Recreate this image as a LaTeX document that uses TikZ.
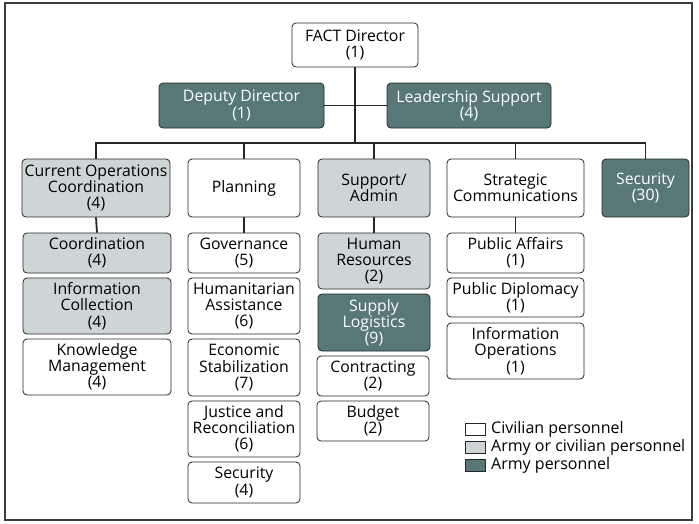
\documentclass[tikz,border=0pt]{standalone}
\usepackage{fontspec}
\setmainfont{Open Sans}
\definecolor{armyc}{RGB}{88,120,120}
\definecolor{mixc}{RGB}{206,213,215}
\definecolor{framec}{RGB}{60,60,60}

\begin{document}
\begin{tikzpicture}[x=1pt,y=-1pt,
      box/.style={rectangle,draw=black!85,line width=0.8pt,rounded corners=4pt,
        align=center,inner sep=0pt,font=\fontsize{15.8}{16.2}\selectfont},
      civ/.style={box,fill=white},
      mix/.style={box,fill=mixc},
      army/.style={box,fill=armyc,text=white},
      link/.style={line width=1.8pt,black!85},
      key/.style={draw=black!85,line width=0.8pt,minimum width=20pt,minimum height=12pt,inner sep=0pt},
      keytext/.style={anchor=west,inner sep=0pt,font=\fontsize{16}{16}\selectfont}]
      \useasboundingbox (0,0) rectangle (699,523);
      \draw[framec,line width=1.2pt] (5,3) rectangle (692,520);
      % top
      \node[civ,minimum width=126,minimum height=44] (Dir) at (355,45) {FACT Director\\(1)}; %L0
      \node[army,minimum width=165,minimum height=45] (Dep) at (241.5,105.5) {Deputy Director\\(1)};
      \node[army,minimum width=164,minimum height=45] (Lead) at (469,105.5) {Leadership Support\\(4)};
      % L1
      \node[mix,minimum width=148,minimum height=58] (Cur) at (96,188) {Current Operations\\Coordination\\(4)};
      \node[civ,minimum width=112,minimum height=58] (Plan) at (244,188) {Planning};
      \node[mix,minimum width=112,minimum height=58] (Sup) at (374,188) {Support/\\Admin};
      \node[civ,minimum width=137,minimum height=58] (Strat) at (515.5,188) {Strategic\\Communications};
      \node[army,minimum width=87,minimum height=58] (Sec) at (645.5,188) {Security\\(30)};
      % L2, column 1
      \node[mix,minimum width=148,minimum height=40] (Coord) at (97,253) {Coordination\\(4)};
      \node[mix,minimum width=148,minimum height=56] (Info) at (97,306) {Information\\Collection\\(4)};
      \node[civ,minimum width=148,minimum height=56] (Know) at (97,367) {Knowledge\\Management\\(4)};
      % L2, column 2
      \node[civ,minimum width=112,minimum height=40] (Gov) at (244,253) {Governance\\(5)};
      \node[civ,minimum width=112,minimum height=56] (Hum) at (244,306) {Humanitarian\\Assistance\\(6)};
      \node[civ,minimum width=112,minimum height=57] (Eco) at (244,367.5) {Economic\\Stabilization\\(7)};
      \node[civ,minimum width=112,minimum height=56] (Just) at (244,429) {Justice and\\Reconciliation\\(6)};
      \node[civ,minimum width=112,minimum height=41] (SecP) at (244,482.5) {Security\\(4)};
      % L2, column 3
      \node[mix,minimum width=112,minimum height=56] (HR) at (374,261) {Human\\Resources\\(2)};
      \node[army,minimum width=112,minimum height=57] (SL) at (374,322.5) {Supply\\Logistics\\(9)};
      \node[civ,minimum width=112,minimum height=40] (Con) at (373,376) {Contracting\\(2)};
      \node[civ,minimum width=112,minimum height=40] (Bud) at (373,421) {Budget\\(2)};
      % L2, column 4
      \node[civ,minimum width=137,minimum height=40] (PA) at (515.5,253) {Public Affairs\\(1)};
      \node[civ,minimum width=137,minimum height=39] (PD) at (515.5,297.5) {Public Diplomacy\\(1)};
      \node[civ,minimum width=137,minimum height=56] (IO) at (515.5,351) {Information\\Operations\\(1)};
      % connectors
      \coordinate (Hub) at (355,143);
      \draw[link] (Dir.south) -- (Hub);
      \draw[link] (Dep.east) -- (Lead.west);
      \draw[link] (Cur.north) -- (Cur.north |- Hub) -- (Sec.north |- Hub) -- (Sec.north);
      \foreach \n in {Plan,Sup,Strat}
        \draw[link] (\n.north) -- (\n.north |- Hub);
      \draw[link] (Cur.south) -- (Coord.north);
      \draw[link] (Plan.south) -- (Gov.north);
      \draw[link] (Sup.south) -- (HR.north);
      \draw[link] (Strat.south) -- (PA.north);
      % legend
      \node[key,fill=white] (KeyCiv) at (475,429) {};
      \node[key,fill=mixc] (KeyMix) at (475,447) {};
      \node[key,fill=armyc] (KeyArmy) at (475,465) {};
      \node[keytext] (TxtCiv) at (491,429) {Civilian personnel};
      \node[keytext] (TxtMix) at (491,447) {Army or civilian personnel};
      \node[keytext] (TxtArmy) at (491,465) {Army personnel};
    \end{tikzpicture}
\end{document}
